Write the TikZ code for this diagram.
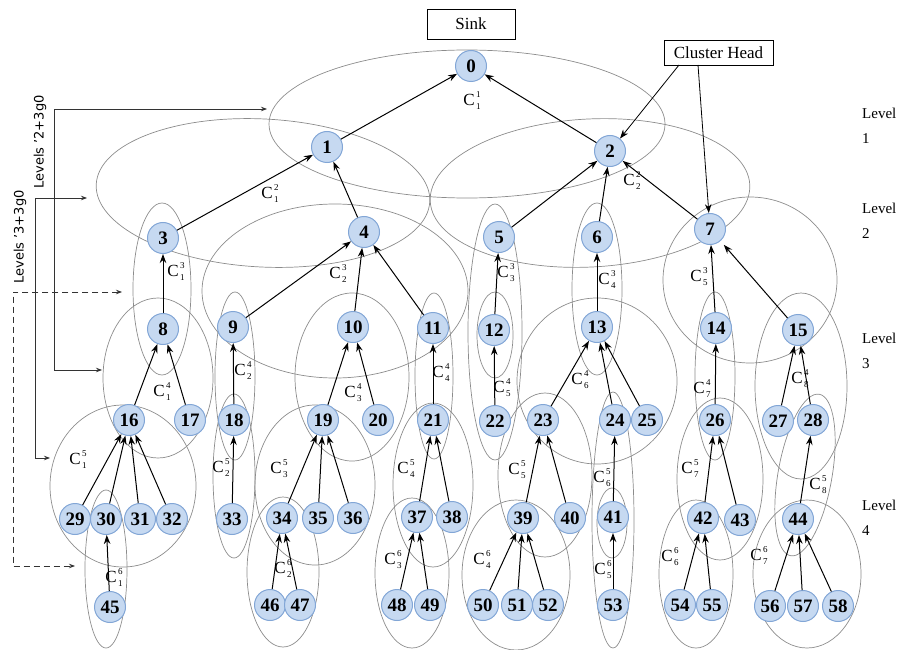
\documentclass[tikz,border=0pt]{standalone}
\usepackage{fontspec}
\setmainfont{Liberation Serif}
\newfontfamily\levfont{DejaVu Sans}
\usetikzlibrary{arrows.meta}
\definecolor{nodefill}{RGB}{198,217,241}
\definecolor{nodeline}{RGB}{130,166,214}
\definecolor{ringgray}{RGB}{140,140,140}
\newcommand{\clu}[2]{C\kern1.2pt\raisebox{-4pt}{\vbox{\fontsize{9}{12}\selectfont\hbox{#1}\hbox{#2}}}}

\begin{document}
\begin{tikzpicture}[x=1pt, y=-1pt, >={Stealth[length=9pt,width=6.5pt]},
  sn/.style={circle, draw=nodeline, fill=nodefill, line width=1pt, minimum size=31pt, inner sep=0pt, font=\fontsize{19}{19}\selectfont\bfseries},
  ring/.style={draw=ringgray, line width=0.7pt},
  clab/.style={inner sep=0pt, font=\fontsize{17}{17}\selectfont},
  tag/.style={draw, line width=0.7pt, inner sep=0pt, font=\fontsize{17}{17}\selectfont},
  lev/.style={anchor=west, align=left, inner sep=0pt, font=\fontsize{15}{25}\selectfont},
  link/.style={->, line width=1pt},
  side/.style={<->, >={Stealth[length=6pt,width=4.5pt]}, line width=0.8pt, draw=black!80}]
    \useasboundingbox (0,0) rectangle (908,650);
    % clusters
    \draw[ring] (467,124) ellipse [x radius=198, y radius=74];
    \draw[ring] (263,193) ellipse [x radius=167, y radius=74, rotate=-3];
    \draw[ring] (590,193) ellipse [x radius=160, y radius=74, rotate=3];
    \draw[ring] (162,289) ellipse [x radius=29, y radius=86];
    \draw[ring] (335,291) ellipse [x radius=133, y radius=87];
    \draw[ring] (495,332) ellipse [x radius=27, y radius=128];
    \draw[ring] (495,335) ellipse [x radius=18, y radius=43];
    \draw[ring] (597,289) ellipse [x radius=25, y radius=86];
    \draw[ring] (750,280) ellipse [x radius=87, y radius=83];
    \draw[ring] (158,378) ellipse [x radius=55, y radius=80];
    \draw[ring] (235,376) ellipse [x radius=20, y radius=84];
    \draw[ring] (352,377) ellipse [x radius=57, y radius=84];
    \draw[ring] (434,376) ellipse [x radius=19, y radius=83];
    \draw[ring] (597,381) ellipse [x radius=80, y radius=83];
    \draw[ring] (715,376) ellipse [x radius=20, y radius=84];
    \draw[ring] (801,386) ellipse [x radius=46, y radius=93];
    \draw[ring] (123,486) ellipse [x radius=73, y radius=81];
    \draw[ring] (234,476) ellipse [x radius=21, y radius=82];
    \draw[ring] (315,485) ellipse [x radius=60, y radius=80];
    \draw[ring] (433,485) ellipse [x radius=40, y radius=82];
    \draw[ring] (545,475) ellipse [x radius=47, y radius=82];
    \draw[ring] (613,520) ellipse [x radius=21, y radius=128];
    \draw[ring] (612,523) ellipse [x radius=15, y radius=35];
    \draw[ring] (720,479) ellipse [x radius=43, y radius=81];
    \draw[ring] (805,475) ellipse [x radius=27, y radius=82, rotate=-10];
    \draw[ring] (106,569) ellipse [x radius=21, y radius=79];
    \draw[ring] (283,572) ellipse [x radius=36, y radius=75];
    \draw[ring] (412,573) ellipse [x radius=37, y radius=75];
    \draw[ring] (516,575) ellipse [x radius=54, y radius=75];
    \draw[ring] (696,574) ellipse [x radius=37, y radius=74];
    \draw[ring] (807,574) ellipse [x radius=54, y radius=74];
    % cluster names
    \node[clab] (c11) at (472,101) {\clu{1}{1}};
    \node[clab] (c12) at (270,194) {\clu{2}{1}};
    \node[clab] (c22) at (632,181) {\clu{2}{2}};
    \node[clab] (c13) at (176,272) {\clu{3}{1}};
    \node[clab] (c23) at (338,274) {\clu{3}{2}};
    \node[clab] (c33) at (506,273) {\clu{3}{3}};
    \node[clab] (c43) at (607,280) {\clu{3}{4}};
    \node[clab] (c53) at (699,277) {\clu{3}{5}};
    \node[clab] (c14) at (162,392) {\clu{4}{1}};
    \node[clab] (c24) at (243,371) {\clu{4}{2}};
    \node[clab] (c34) at (353,393) {\clu{4}{3}};
    \node[clab] (c44) at (441,373) {\clu{4}{4}};
    \node[clab] (c54) at (502,388) {\clu{4}{5}};
    \node[clab] (c64) at (580,380) {\clu{4}{6}};
    \node[clab] (c74) at (702,389) {\clu{4}{7}};
    \node[clab] (c84) at (800,379) {\clu{4}{8}};
    \node[clab] (c15) at (78,460) {\clu{5}{1}};
    \node[clab] (c25) at (221,468) {\clu{5}{2}};
    \node[clab] (c35) at (279,469) {\clu{5}{3}};
    \node[clab] (c45) at (406,469) {\clu{5}{4}};
    \node[clab] (c55) at (517,470) {\clu{5}{5}};
    \node[clab] (c65) at (602,478) {\clu{5}{6}};
    \node[clab] (c75) at (690,469) {\clu{5}{7}};
    \node[clab] (c85) at (818,485) {\clu{5}{8}};
    \node[clab] (c16) at (114,578) {\clu{6}{1}};
    \node[clab] (c26) at (283,569) {\clu{6}{2}};
    \node[clab] (c36) at (393,560) {\clu{6}{3}};
    \node[clab] (c46) at (482,560) {\clu{6}{4}};
    \node[clab] (c56) at (603,570) {\clu{6}{5}};
    \node[clab] (c66) at (670,557) {\clu{6}{6}};
    \node[clab] (c76) at (759,556) {\clu{6}{7}};
    % sensor nodes
    \node[sn] (n0) at (471,66) {0};
    \node[sn] (n1) at (327,147) {1};
    \node[sn] (n2) at (610,151) {2};
    \node[sn] (n3) at (163,238) {3};
    \node[sn] (n4) at (364,232) {4};
    \node[sn] (n5) at (499,237) {5};
    \node[sn] (n6) at (597,237) {6};
    \node[sn] (n7) at (710,229) {7};
    \node[sn] (n8) at (163,329) {8};
    \node[sn] (n9) at (233,327) {9};
    \node[sn] (n10) at (353,327) {10};
    \node[sn] (n11) at (433,328) {11};
    \node[sn] (n12) at (494,330) {12};
    \node[sn] (n13) at (597,327) {13};
    \node[sn] (n14) at (716,328) {14};
    \node[sn] (n15) at (798,330) {15};
    \node[sn] (n16) at (129,420) {16};
    \node[sn] (n17) at (190,420) {17};
    \node[sn] (n18) at (234,420) {18};
    \node[sn] (n19) at (323,420) {19};
    \node[sn] (n20) at (378,420) {20};
    \node[sn] (n21) at (433,420) {21};
    \node[sn] (n22) at (495,421) {22};
    \node[sn] (n23) at (543,420) {23};
    \node[sn] (n24) at (615,420) {24};
    \node[sn] (n25) at (647,420) {25};
    \node[sn] (n26) at (715,420) {26};
    \node[sn] (n27) at (778,421) {27};
    \node[sn] (n28) at (813,420) {28};
    \node[sn] (n29) at (75,519) {29};
    \node[sn] (n30) at (106,519) {30};
    \node[sn] (n31) at (140,519) {31};
    \node[sn] (n32) at (172,519) {32};
    \node[sn] (n33) at (232,519) {33};
    \node[sn] (n34) at (282,518) {34};
    \node[sn] (n35) at (318,518) {35};
    \node[sn] (n36) at (353,518) {36};
    \node[sn] (n37) at (417,517) {37};
    \node[sn] (n38) at (452,517) {38};
    \node[sn] (n39) at (523,518) {39};
    \node[sn] (n40) at (570,518) {40};
    \node[sn] (n41) at (613,517) {41};
    \node[sn] (n42) at (703,518) {42};
    \node[sn] (n43) at (740,520) {43};
    \node[sn] (n44) at (798,519) {44};
    \node[sn] (n45) at (110,607) {45};
    \node[sn] (n46) at (270,605) {46};
    \node[sn] (n47) at (300,605) {47};
    \node[sn] (n48) at (397,605) {48};
    \node[sn] (n49) at (430,605) {49};
    \node[sn] (n50) at (483,605) {50};
    \node[sn] (n51) at (517,605) {51};
    \node[sn] (n52) at (548,605) {52};
    \node[sn] (n53) at (613,605) {53};
    \node[sn] (n54) at (680,605) {54};
    \node[sn] (n55) at (712,605) {55};
    \node[sn] (n56) at (770,606) {56};
    \node[sn] (n57) at (803,606) {57};
    \node[sn] (n58) at (838,606) {58};
    % links to the cluster heads
    \foreach \a/\b in {1/0,2/0,3/1,4/1,5/2,6/2,7/2,8/3,9/4,10/4,11/4,12/5,13/6,14/7,
        16/8,17/8,18/9,19/10,20/10,21/11,22/12,23/13,24/13,25/13,26/14,27/15,28/15,
        29/16,30/16,31/16,32/16,33/18,34/19,35/19,36/19,37/21,38/21,39/23,40/23,41/24,
        42/26,43/26,44/28,45/30,46/34,47/34,48/37,49/37,50/39,51/39,52/39,53/41,
        54/42,55/42,56/44,57/44,58/44}
        \draw[link] (n\a) -- (n\b);
    \draw[link, shorten >=5pt] (n15) -- (n7);
    % boxes
    \node[tag, minimum width=88pt, minimum height=30pt] (sink) at (471,24) {Sink};
    \node[tag, minimum width=109pt, minimum height=25pt] (ch) at (718.5,52.5) {Cluster Head};
    \coordinate (ch1) at (679,65);
    \coordinate (ch2) at (698,65);
    \draw[link, line width=0.8pt] (ch1) -- (n2);
    \draw[link, line width=0.8pt] (ch2) -- (n7);
    % levels
    \node[lev] (lev1) at (862,126) {Level\\1};
    \node[lev] (lev2) at (862,221) {Level\\2};
    \node[lev] (lev3) at (862,351) {Level\\3};
    \node[lev] (lev4) at (862,518) {Level\\4};
    % level ranges on the left
    \node[rotate=90, inner sep=0pt, font=\levfont\fontsize{13}{13}\selectfont] (rg2) at (40,142) {Levels ’2+3g0};
    \node[rotate=90, inner sep=0pt, font=\levfont\fontsize{13}{13}\selectfont] (rg3) at (20,237) {Levels ’3+3g0};
    \coordinate (a1) at (267,109);
    \coordinate (a2) at (54,109);
    \coordinate (a3) at (54,370);
    \coordinate (a4) at (102,370);
    \draw[side] (a1) -- (a2) -- (a3) -- (a4);
    \coordinate (b1) at (87,198);
    \coordinate (b2) at (35,198);
    \coordinate (b3) at (35,458);
    \coordinate (b4) at (50,458);
    \draw[side] (b1) -- (b2) -- (b3) -- (b4);
    \coordinate (d1) at (122,292);
    \coordinate (d2) at (13,292);
    \coordinate (d3) at (13,566);
    \coordinate (d4) at (75,566);
    \draw[side, dashed, dash pattern=on 6pt off 4pt] (d1) -- (d2) -- (d3) -- (d4);
\end{tikzpicture}
\end{document}
